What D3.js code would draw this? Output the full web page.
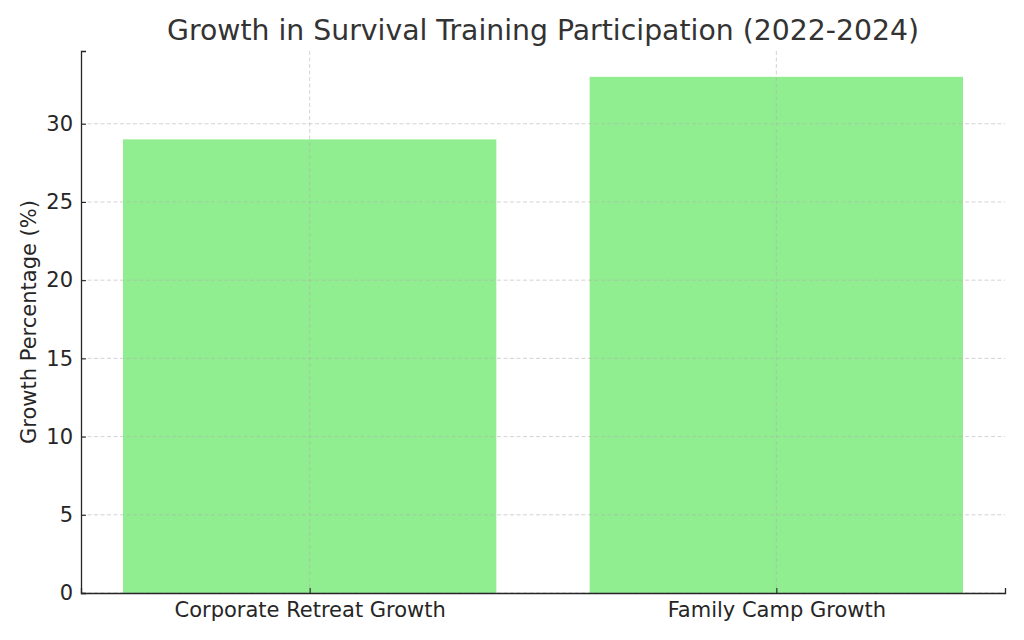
<!DOCTYPE html>
<html>
<head>
<meta charset="utf-8">
<script src="https://cdn.jsdelivr.net/npm/d3@7"></script>
<style>
  body { margin: 0; background: #fff; }
  text { font-family: "DejaVu Sans", sans-serif; fill: #262626; }
</style>
</head>
<body>
<div id="chart"></div>
<script>
// Daten
const categories = ["Corporate Retreat Growth", "Family Camp Growth"];
const growth = [29, 33];
const yTicks = [0, 5, 10, 15, 20, 25, 30];

const width = 1024, height = 640;
const margin = {top: 51, right: 19, bottom: 47, left: 81};
const innerW = width - margin.left - margin.right;
const innerH = height - margin.top - margin.bottom;

const svg = d3.select("#chart")
    .append("svg")
    .attr("width", width)
    .attr("height", height);

const g = svg.append("g")
    .attr("transform", `translate(${margin.left},${margin.top})`);

// x wie matplotlib: Balken bei 0 und 1, Breite 0.8, 5% Rand
const x = d3.scaleLinear()
    .domain([-0.49, 1.49])
    .range([0, innerW]);

const y = d3.scaleLinear()
    .domain([0, 33 * 1.05])
    .range([innerH, 0]);

// Balken
g.append("g")
    .selectAll("rect")
    .data(growth)
    .join("rect")
    .attr("x", (d, i) => x(i - 0.4))
    .attr("width", x(0.4) - x(-0.4))
    .attr("y", d => y(d))
    .attr("height", d => y(0) - y(d))
    .attr("fill", "#90ee90");

// Gitter (über den Balken)
const grid = g.append("g")
    .attr("stroke", "#b0b0b0")
    .attr("stroke-opacity", 0.7)
    .attr("stroke-dasharray", "4,2.5")
    .attr("stroke-width", 0.8);

grid.selectAll("line.h")
    .data(yTicks)
    .join("line")
    .attr("class", "h")
    .attr("x1", 0).attr("x2", innerW)
    .attr("y1", d => y(d)).attr("y2", d => y(d));

grid.selectAll("line.v")
    .data(categories)
    .join("line")
    .attr("class", "v")
    .attr("x1", (d, i) => x(i)).attr("x2", (d, i) => x(i))
    .attr("y1", 0).attr("y2", innerH);

// Achsen
const yAxis = g.append("g")
    .call(d3.axisLeft(y).tickValues(yTicks).tickSize(-5).tickPadding(8));

const xAxis = g.append("g")
    .attr("transform", `translate(0,${innerH})`)
    .call(d3.axisBottom(x).tickValues([0, 1]).tickFormat((d, i) => categories[i]).tickSize(-5).tickPadding(0));

[yAxis, xAxis].forEach(ax => {
    ax.select(".domain").attr("stroke", "#262626").attr("stroke-width", 1.3);
    ax.selectAll(".tick line").attr("stroke", "#262626").attr("stroke-width", 1.1);
    ax.selectAll(".tick text")
        .attr("font-size", 21)
        .attr("fill", "#262626");
});
xAxis.selectAll(".tick text").attr("dy", null).attr("y", 24);

// Titel
svg.append("text")
    .attr("x", margin.left + innerW / 2)
    .attr("y", 40)
    .attr("text-anchor", "middle")
    .attr("font-size", 28.3)
    .style("fill", "#333333")
    .text("Growth in Survival Training Participation (2022-2024)");

// y-Achsenbeschriftung
svg.append("text")
    .attr("transform", `translate(36,${margin.top + innerH / 2}) rotate(-90)`)
    .attr("text-anchor", "middle")
    .attr("font-size", 21)
    .text("Growth Percentage (%)");
</script>
</body>
</html>
